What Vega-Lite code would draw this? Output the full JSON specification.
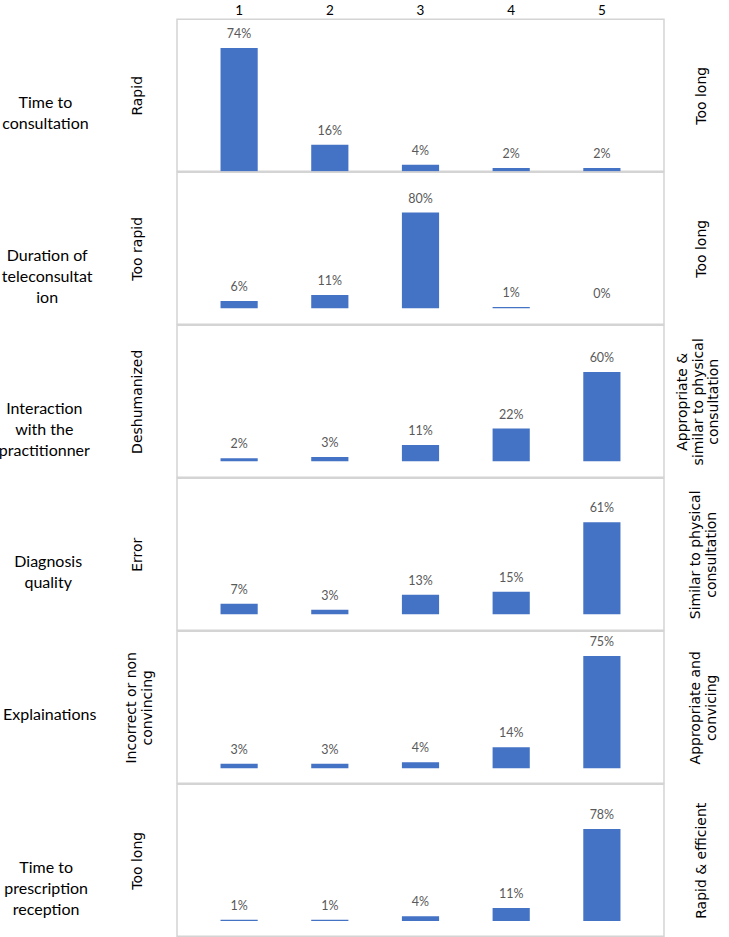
{
  "$schema": "https://vega.github.io/schema/vega-lite/v6.json",
  "background": "white",
  "padding": {"left": -3, "top": 2.3, "right": 0, "bottom": 0},
  "spacing": 1,
  "bounds": "flush",
  "data": {"values": [
    {"q": "q1", "score": 1, "pct": 0.74}, {"q": "q1", "score": 2, "pct": 0.16}, {"q": "q1", "score": 3, "pct": 0.04}, {"q": "q1", "score": 4, "pct": 0.02}, {"q": "q1", "score": 5, "pct": 0.02},
    {"q": "q2", "score": 1, "pct": 0.06}, {"q": "q2", "score": 2, "pct": 0.11}, {"q": "q2", "score": 3, "pct": 0.80}, {"q": "q2", "score": 4, "pct": 0.01}, {"q": "q2", "score": 5, "pct": 0.00},
    {"q": "q3", "score": 1, "pct": 0.02}, {"q": "q3", "score": 2, "pct": 0.03}, {"q": "q3", "score": 3, "pct": 0.11}, {"q": "q3", "score": 4, "pct": 0.22}, {"q": "q3", "score": 5, "pct": 0.60},
    {"q": "q4", "score": 1, "pct": 0.07}, {"q": "q4", "score": 2, "pct": 0.03}, {"q": "q4", "score": 3, "pct": 0.13}, {"q": "q4", "score": 4, "pct": 0.15}, {"q": "q4", "score": 5, "pct": 0.61},
    {"q": "q5", "score": 1, "pct": 0.03}, {"q": "q5", "score": 2, "pct": 0.03}, {"q": "q5", "score": 3, "pct": 0.04}, {"q": "q5", "score": 4, "pct": 0.14}, {"q": "q5", "score": 5, "pct": 0.75},
    {"q": "q6", "score": 1, "pct": 0.01}, {"q": "q6", "score": 2, "pct": 0.01}, {"q": "q6", "score": 3, "pct": 0.04}, {"q": "q6", "score": 4, "pct": 0.11}, {"q": "q6", "score": 5, "pct": 0.78}
  ]},
  "vconcat": [
    {
      "width": 487, "height": 152,
      "title": {"text": ["Time to", "consultation"], "offset": -2},
      "transform": [{"filter": "datum.q == 'q1'"}],
      "layer": [
        {"mark": {"type": "bar", "color": "#4472C4"},
         "encoding": {
           "x": {"field": "score", "type": "ordinal", "scale": {"paddingInner": 0.59, "paddingOuter": 0.48}, "axis": {"orient": "top", "title": null, "labelAngle": 0, "ticks": false, "domain": false, "labelPadding": 1.5, "labelFontSize": 13.5, "labelFont": "Lato", "labelColor": "#000"}},
           "y": {"field": "pct", "type": "quantitative", "scale": {"domain": [0, 0.912], "nice": false, "zero": false}, "axis": {"orient": "left", "title": "Rapid"}},
           "y2": {"datum": 0}}},
        {"mark": {"type": "text", "dy": -14, "baseline": "middle", "font": "Lato", "fontSize": 12.5, "color": "#595959"},
         "encoding": {
           "x": {"field": "score", "type": "ordinal"},
           "y": {"field": "pct", "type": "quantitative", "axis": {"orient": "right", "title": "Too long", "titleBaseline": "top", "titlePadding": 31}},
           "text": {"field": "pct", "type": "quantitative", "format": ".0%"}}}
      ],
      "resolve": {"axis": {"y": "independent"}}
    },
    {
      "width": 487, "height": 152,
      "title": {"text": ["Duration of", "teleconsultat", "ion"], "offset": -8},
      "transform": [{"filter": "datum.q == 'q2'"}],
      "layer": [
        {"mark": {"type": "bar", "color": "#4472C4"},
         "encoding": {
           "x": {"field": "score", "type": "ordinal", "scale": {"paddingInner": 0.59, "paddingOuter": 0.48}, "axis": null},
           "y": {"field": "pct", "type": "quantitative", "scale": {"domain": [-0.134, 1.137], "nice": false, "zero": false}, "axis": {"orient": "left", "title": "Too rapid"}},
           "y2": {"datum": 0}}},
        {"mark": {"type": "text", "dy": -14, "baseline": "middle", "font": "Lato", "fontSize": 12.5, "color": "#595959"},
         "encoding": {
           "x": {"field": "score", "type": "ordinal"},
           "y": {"field": "pct", "type": "quantitative", "axis": {"orient": "right", "title": "Too long", "titleBaseline": "top", "titlePadding": 31}},
           "text": {"field": "pct", "type": "quantitative", "format": ".0%"}}}
      ],
      "resolve": {"axis": {"y": "independent"}}
    },
    {
      "width": 487, "height": 152,
      "title": {"text": ["Interaction", "with the", "practitionner"], "offset": -5.5},
      "transform": [{"filter": "datum.q == 'q3'"}],
      "layer": [
        {"mark": {"type": "bar", "color": "#4472C4"},
         "encoding": {
           "x": {"field": "score", "type": "ordinal", "scale": {"paddingInner": 0.59, "paddingOuter": 0.48}, "axis": null},
           "y": {"field": "pct", "type": "quantitative", "scale": {"domain": [-0.107, 0.913], "nice": false, "zero": false}, "axis": {"orient": "left", "title": "Deshumanized"}},
           "y2": {"datum": 0}}},
        {"mark": {"type": "text", "dy": -14, "baseline": "middle", "font": "Lato", "fontSize": 12.5, "color": "#595959"},
         "encoding": {
           "x": {"field": "score", "type": "ordinal"},
           "y": {"field": "pct", "type": "quantitative", "axis": {"orient": "right", "title": ["Appropriate &", "similar to physical", "consultation"], "titleBaseline": "top", "titlePadding": -19, "titleLineHeight": 15.5}},
           "text": {"field": "pct", "type": "quantitative", "format": ".0%"}}}
      ],
      "resolve": {"axis": {"y": "independent"}}
    },
    {
      "width": 487, "height": 152,
      "title": {"text": ["Diagnosis", "quality"], "offset": 14},
      "transform": [{"filter": "datum.q == 'q4'"}],
      "layer": [
        {"mark": {"type": "bar", "color": "#4472C4"},
         "encoding": {
           "x": {"field": "score", "type": "ordinal", "scale": {"paddingInner": 0.59, "paddingOuter": 0.48}, "axis": null},
           "y": {"field": "pct", "type": "quantitative", "scale": {"domain": [-0.106, 0.902], "nice": false, "zero": false}, "axis": {"orient": "left", "title": "Error"}},
           "y2": {"datum": 0}}},
        {"mark": {"type": "text", "dy": -14, "baseline": "middle", "font": "Lato", "fontSize": 12.5, "color": "#595959"},
         "encoding": {
           "x": {"field": "score", "type": "ordinal"},
           "y": {"field": "pct", "type": "quantitative", "axis": {"orient": "right", "title": ["Similar to physical", "consultation"], "titleBaseline": "top", "titlePadding": 8}},
           "text": {"field": "pct", "type": "quantitative", "format": ".0%"}}}
      ],
      "resolve": {"axis": {"y": "independent"}}
    },
    {
      "width": 487, "height": 152,
      "title": {"text": ["Explainations"], "offset": -19},
      "transform": [{"filter": "datum.q == 'q5'"}],
      "layer": [
        {"mark": {"type": "bar", "color": "#4472C4"},
         "encoding": {
           "x": {"field": "score", "type": "ordinal", "scale": {"paddingInner": 0.59, "paddingOuter": 0.48}, "axis": null},
           "y": {"field": "pct", "type": "quantitative", "scale": {"domain": [-0.1, 0.915], "nice": false, "zero": false}, "axis": {"orient": "left", "title": ["Incorrect or non", "convincing"], "titlePadding": 29.5}},
           "y2": {"datum": 0}}},
        {"mark": {"type": "text", "dy": -14, "baseline": "middle", "font": "Lato", "fontSize": 12.5, "color": "#595959"},
         "encoding": {
           "x": {"field": "score", "type": "ordinal"},
           "y": {"field": "pct", "type": "quantitative", "axis": {"orient": "right", "title": ["Appropriate and", "convicing"], "titleBaseline": "top", "titlePadding": 8}},
           "text": {"field": "pct", "type": "quantitative", "format": ".0%"}}}
      ],
      "resolve": {"axis": {"y": "independent"}}
    },
    {
      "width": 487, "height": 152,
      "title": {"text": ["Time to", "prescription", "reception"], "offset": 0},
      "transform": [{"filter": "datum.q == 'q6'"}],
      "layer": [
        {"mark": {"type": "bar", "color": "#4472C4"},
         "encoding": {
           "x": {"field": "score", "type": "ordinal", "scale": {"paddingInner": 0.59, "paddingOuter": 0.48}, "axis": null},
           "y": {"field": "pct", "type": "quantitative", "scale": {"domain": [-0.13, 1.158], "nice": false, "zero": false}, "axis": {"orient": "left", "title": "Too long"}},
           "y2": {"datum": 0}}},
        {"mark": {"type": "text", "dy": -14, "baseline": "middle", "font": "Lato", "fontSize": 12.5, "color": "#595959"},
         "encoding": {
           "x": {"field": "score", "type": "ordinal"},
           "y": {"field": "pct", "type": "quantitative", "axis": {"orient": "right", "title": "Rapid & efficient", "titleBaseline": "top", "titlePadding": 31}},
           "text": {"field": "pct", "type": "quantitative", "format": ".0%"}}}
      ],
      "resolve": {"axis": {"y": "independent"}}
    }
  ],
  "config": {
    "view": {"stroke": "#d4d4d4", "strokeWidth": 1.5},
    "title": {"orient": "left", "angle": 0, "align": "center", "baseline": "middle", "anchor": "middle", "font": "Lato", "fontSize": 16, "fontWeight": "normal", "color": "#000", "lineHeight": 21},
    "axisY": {"labels": false, "ticks": false, "domain": false, "grid": false, "titleAngle": -90, "titleBaseline": "middle", "titleFont": "DejaVu Sans", "titleFontSize": 14, "titleFontWeight": "normal", "titleColor": "#000", "titleLineHeight": 16.5},
    "axisLeft": {"titlePadding": 40},
    "axisX": {"grid": false}
  }
}
